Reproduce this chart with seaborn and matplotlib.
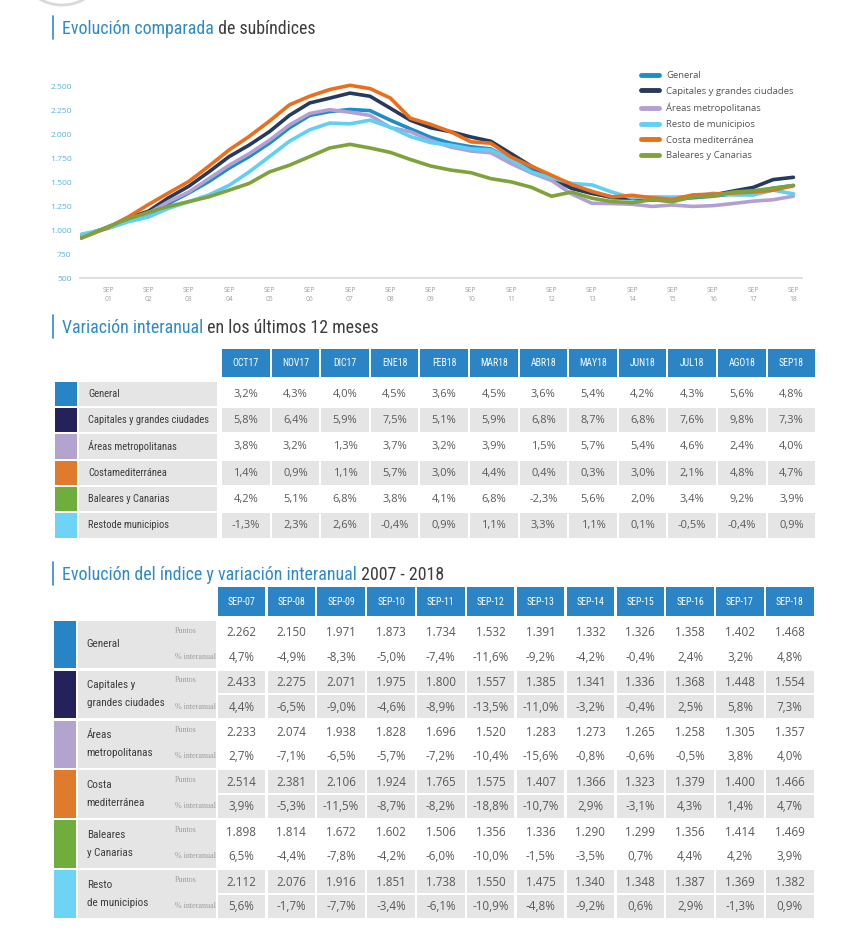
import numpy as np
import pandas as pd
import matplotlib
matplotlib.use("Agg")
import matplotlib.pyplot as plt
import seaborn as sns
from matplotlib import font_manager
from matplotlib.patches import Rectangle, Circle
from matplotlib.ticker import FuncFormatter

# ---------------- data ----------------
fechas = ["2001-01", "2001-09", "2002-03", "2002-09", "2003-03", "2003-09",
          "2004-03", "2004-09", "2005-03", "2005-09", "2006-03", "2006-09",
          "2007-03", "2007-09", "2008-03", "2008-09", "2009-03", "2009-09",
          "2010-03", "2010-09", "2011-03", "2011-09", "2012-03", "2012-09",
          "2013-03", "2013-09", "2014-03", "2014-09", "2015-03", "2015-09",
          "2016-03", "2016-09", "2017-03", "2017-09", "2018-03", "2018-09"]

general = [940, 1030, 1110, 1160, 1280, 1390, 1510, 1650, 1770, 1910, 2070, 2200,
           2240, 2262, 2250, 2150, 2060, 1971, 1910, 1873, 1850, 1734, 1630, 1532,
           1440, 1391, 1340, 1332, 1320, 1326, 1340, 1358, 1380, 1402, 1440, 1468]
capitales = [940, 1030, 1130, 1200, 1340, 1460, 1610, 1770, 1890, 2030, 2200, 2330,
             2380, 2433, 2400, 2275, 2150, 2071, 2030, 1975, 1930, 1800, 1670, 1557,
             1440, 1385, 1350, 1341, 1320, 1336, 1350, 1368, 1410, 1448, 1530, 1554]
areas = [930, 1030, 1120, 1180, 1300, 1400, 1540, 1680, 1800, 1940, 2100, 2220,
         2260, 2233, 2200, 2074, 2030, 1938, 1870, 1828, 1810, 1696, 1600, 1520,
         1380, 1283, 1280, 1273, 1250, 1265, 1250, 1258, 1280, 1305, 1320, 1357]
resto = [960, 1020, 1090, 1140, 1230, 1300, 1370, 1470, 1610, 1770, 1930, 2050,
         2120, 2112, 2150, 2076, 1980, 1916, 1890, 1851, 1840, 1738, 1610, 1550,
         1490, 1475, 1400, 1340, 1350, 1348, 1350, 1387, 1370, 1369, 1420, 1382]
costa = [920, 1030, 1140, 1270, 1390, 1510, 1670, 1840, 1980, 2140, 2310, 2400,
         2470, 2514, 2480, 2381, 2170, 2106, 2030, 1924, 1910, 1765, 1670, 1575,
         1480, 1407, 1350, 1366, 1340, 1323, 1370, 1379, 1390, 1400, 1420, 1466]
baleares = [920, 1040, 1120, 1190, 1250, 1300, 1350, 1420, 1490, 1610, 1680, 1770,
            1860, 1898, 1860, 1814, 1740, 1672, 1630, 1602, 1540, 1506, 1450, 1356,
            1400, 1336, 1300, 1290, 1320, 1299, 1350, 1356, 1400, 1414, 1440, 1469]

series = ["General", "Capitales y grandes ciudades", "Áreas metropolitanas",
          "Resto de municipios", "Costa mediterránea", "Baleares y Canarias"]
colores = ["#1b8dc9", "#253a5e", "#b3a0d3", "#5fd0f5", "#ec6e1a", "#7fa33a"]

yticks = [500, 750, 1000, 1250, 1500, 1750, 2000, 2250, 2500]
xtick_anios = ["01", "02", "03", "04", "05", "06", "07", "08", "09",
               "10", "11", "12", "13", "14", "15", "16", "17", "18"]

# table 1: year-on-year change, last 12 months
meses = ["OCT17", "NOV17", "DIC17", "ENE18", "FEB18", "MAR18",
         "ABR18", "MAY18", "JUN18", "JUL18", "AGO18", "SEP18"]
t1_filas = ["General", "Capitales y grandes ciudades", "Áreas metropolitanas",
            "Costamediterránea", "Baleares y Canarias", "Restode municipios"]
t1_general = [3.2, 4.3, 4.0, 4.5, 3.6, 4.5, 3.6, 5.4, 4.2, 4.3, 5.6, 4.8]
t1_capitales = [5.8, 6.4, 5.9, 7.5, 5.1, 5.9, 6.8, 8.7, 6.8, 7.6, 9.8, 7.3]
t1_areas = [3.8, 3.2, 1.3, 3.7, 3.2, 3.9, 1.5, 5.7, 5.4, 4.6, 2.4, 4.0]
t1_costa = [1.4, 0.9, 1.1, 5.7, 3.0, 4.4, 0.4, 0.3, 3.0, 2.1, 4.8, 4.7]
t1_baleares = [4.2, 5.1, 6.8, 3.8, 4.1, 6.8, -2.3, 5.6, 2.0, 3.4, 9.2, 3.9]
t1_resto = [-1.3, 2.3, 2.6, -0.4, 0.9, 1.1, 3.3, 1.1, 0.1, -0.5, -0.4, 0.9]

# table 2: index and yoy change 2007-2018
anios = ["SEP-07", "SEP-08", "SEP-09", "SEP-10", "SEP-11", "SEP-12",
         "SEP-13", "SEP-14", "SEP-15", "SEP-16", "SEP-17", "SEP-18"]
t2_filas = ["General", "Capitales y\ngrandes ciudades", "Áreas\nmetropolitanas",
            "Costa\nmediterránea", "Baleares\ny Canarias", "Resto\nde municipios"]
pts_general = [2262, 2150, 1971, 1873, 1734, 1532, 1391, 1332, 1326, 1358, 1402, 1468]
pct_general = [4.7, -4.9, -8.3, -5.0, -7.4, -11.6, -9.2, -4.2, -0.4, 2.4, 3.2, 4.8]
pts_capitales = [2433, 2275, 2071, 1975, 1800, 1557, 1385, 1341, 1336, 1368, 1448, 1554]
pct_capitales = [4.4, -6.5, -9.0, -4.6, -8.9, -13.5, -11.0, -3.2, -0.4, 2.5, 5.8, 7.3]
pts_areas = [2233, 2074, 1938, 1828, 1696, 1520, 1283, 1273, 1265, 1258, 1305, 1357]
pct_areas = [2.7, -7.1, -6.5, -5.7, -7.2, -10.4, -15.6, -0.8, -0.6, -0.5, 3.8, 4.0]
pts_costa = [2514, 2381, 2106, 1924, 1765, 1575, 1407, 1366, 1323, 1379, 1400, 1466]
pct_costa = [3.9, -5.3, -11.5, -8.7, -8.2, -18.8, -10.7, 2.9, -3.1, 4.3, 1.4, 4.7]
pts_baleares = [1898, 1814, 1672, 1602, 1506, 1356, 1336, 1290, 1299, 1356, 1414, 1469]
pct_baleares = [6.5, -4.4, -7.8, -4.2, -6.0, -10.0, -1.5, -3.5, 0.7, 4.4, 4.2, 3.9]
pts_resto = [2112, 2076, 1916, 1851, 1738, 1550, 1475, 1340, 1348, 1387, 1369, 1382]
pct_resto = [5.6, -1.7, -7.7, -3.4, -6.1, -10.9, -4.8, -9.2, 0.6, 2.9, -1.3, 0.9]

swatch = ["#2784c6", "#25215a", "#b3a3cf", "#e07a2c", "#6fae3c", "#6dd4f5"]

# ---------------- style ----------------
sns.set_style("white")
names = {f.name for f in font_manager.fontManager.ttflist}
COND = next((n for n in ["Liberation Sans Narrow", "DejaVu Sans Condensed",
                         "Roboto Condensed", "Open Sans Condensed"] if n in names),
            "Liberation Sans")
plt.rcParams["font.family"] = ["Open Sans", "DejaVu Sans"]

BLUE_HEAD = "#2a84c5"
BLUE_T = "#2e8bc9"
GREY = "#e5e5e5"
DARK = "#3d3d3d"
NUM = "#5a5a5a"

W, H = 847, 940
fig = plt.figure(figsize=(W / 100, H / 100), dpi=100)
canvas = fig.add_axes([0, 0, 1, 1])
canvas.set_xlim(0, W)
canvas.set_ylim(H, 0)
canvas.axis("off")


def box(x0, y0, x1, y1):
    return [x0 / W, 1 - y1 / H, (x1 - x0) / W, (y1 - y0) / H]


def pct(v):
    return f"{v:.1f}".replace(".", ",") + "%"


def miles(v):
    return f"{v:,.0f}".replace(",", ".")


def titulo(y, azul, gris):
    canvas.plot([52.7, 52.7], [y - 18, y + 5], color=BLUE_T, lw=1.2)
    t = canvas.text(62, y, azul, color=BLUE_T, fontsize=12.9, family=COND, va="baseline")
    canvas.annotate(gris, xy=(1, 0), xycoords=t, va="bottom", ha="left",
                    color=DARK, fontsize=12.9, family=COND)


def cell(x, y, w, h, color):
    canvas.add_patch(Rectangle((x, y), w, h, facecolor=color, edgecolor="none"))


# decorative arc top-left
canvas.add_patch(Circle((62, -40), 45, facecolor="white", edgecolor="#d9d9d9", lw=2))

# ---------------- line chart ----------------
titulo(34, "Evolución comparada", " de subíndices")

df = pd.DataFrame({"fecha": pd.to_datetime(fechas * 6),
                   "indice": general + capitales + areas + resto + costa + baleares,
                   "serie": np.repeat(series, len(fechas))})

ax = fig.add_axes(box(80, 67.5, 802, 278.3))
ax.patch.set_alpha(0)
sns.lineplot(data=df, x="fecha", y="indice", hue="serie", hue_order=series,
             palette=colores, linewidth=2.6, ax=ax)
ax.set_ylim(500, 2700)
ax.set_xlim(pd.Timestamp("2000-12-20"), pd.Timestamp("2018-11-18"))
ax.set_yticks(yticks)
ax.yaxis.set_major_formatter(FuncFormatter(lambda v, p: miles(v)))
ax.set_xticks([pd.Timestamp(f"20{a}-09-01") for a in xtick_anios])
ax.set_xticklabels([f"SEP\n{a}" for a in xtick_anios])
ax.tick_params(axis="x", length=0, labelsize=4.9, colors="#a0a0a0", pad=6)
ax.tick_params(axis="y", length=0, labelsize=6.1, colors="#5ab4d8", pad=6)
for lab in ax.get_xticklabels():
    lab.set_linespacing(1.4)
ax.set_xlabel("")
ax.set_ylabel("")
sns.despine(ax=ax, left=True)
ax.spines["bottom"].set_color("#dcdcdc")
ax.spines["bottom"].set_linewidth(1.3)
sns.move_legend(ax, "upper left", bbox_to_anchor=(641 / W, 1 - 71 / H),
                bbox_transform=fig.transFigure, frameon=False, title=None,
                fontsize=6.8, handlelength=1.9, handletextpad=0.75,
                labelspacing=0.72, borderpad=0, borderaxespad=0)
for h in ax.get_legend().legend_handles:
    h.set_linewidth(3.5)
for t in ax.get_legend().get_texts():
    t.set_color("#555555")

# ---------------- table 1 ----------------
titulo(333.3, "Variación interanual", " en los últimos 12 meses")
t1_vals = [t1_general, t1_capitales, t1_areas, t1_costa, t1_baleares, t1_resto]
x0, cp, cw = 222, 49.6, 47.6
y0, rp, rh = 381.7, 26.3, 24.4
for j, m in enumerate(meses):
    x = x0 + j * cp
    cell(x, 349, cw, 28, BLUE_HEAD)
    canvas.text(x + cw / 2, 363.5, m, ha="center", va="center", color="white",
                fontsize=7, family=COND)
for i, nombre in enumerate(t1_filas):
    y = y0 + i * rp
    cell(55, y, 22.3, rh, swatch[i])
    cell(79.3, y, 137.4, rh, GREY)
    canvas.text(88, y + rh / 2, nombre, ha="left", va="center", color=DARK,
                fontsize=7.6, family=COND)
    for j, v in enumerate(t1_vals[i]):
        x = x0 + j * cp
        if i % 2 == 1:
            cell(x, y, cw, rh, GREY)
        canvas.text(x + cw / 2, y + rh / 2 + 0.5, pct(v), ha="center", va="center",
                    color=NUM, fontsize=8)

# ---------------- table 2 ----------------
titulo(580, "Evolución del índice y variación interanual", " 2007 - 2018")
t2_pts = [pts_general, pts_capitales, pts_areas, pts_costa, pts_baleares, pts_resto]
t2_pct = [pct_general, pct_capitales, pct_areas, pct_costa, pct_baleares, pct_resto]
x0, cp, cw = 217.7, 49.85, 47.5
y0, gp, gh = 620.7, 49.9, 47.3
sh = (gh - 2) / 2
for j, a in enumerate(anios):
    x = x0 + j * cp
    cell(x, 587.3, cw, 28.7, BLUE_HEAD)
    canvas.text(x + cw / 2, 602, a, ha="center", va="center", color="white",
                fontsize=7.2, family=COND)
for i, nombre in enumerate(t2_filas):
    y = y0 + i * gp
    cell(54, y, 22, gh, swatch[i])
    cell(77.7, y, 138.3, gh, GREY)
    canvas.text(86.7, y + gh / 2, nombre, ha="left", va="center", color=DARK,
                fontsize=8, family=COND, linespacing=1.95)
    canvas.text(175, y + sh / 2 - 1.5, "Puntos", ha="left", va="center",
                color="#9c9c9c", fontsize=5.8, family=["Liberation Serif", "DejaVu Serif"])
    canvas.text(175, y + sh + 2 + sh / 2, "% interanual", ha="left", va="center",
                color="#9c9c9c", fontsize=5.8, family=["Liberation Serif", "DejaVu Serif"])
    for j in range(len(anios)):
        x = x0 + j * cp
        if i % 2 == 1:
            cell(x, y, cw, sh, GREY)
            cell(x, y + sh + 2, cw, sh, GREY)
        canvas.text(x + cw / 2, y + sh / 2 + 0.5, miles(t2_pts[i][j]), ha="center",
                    va="center", color=NUM, fontsize=8.4)
        canvas.text(x + cw / 2, y + sh + 2 + sh / 2 + 0.5, pct(t2_pct[i][j]),
                    ha="center", va="center", color=NUM, fontsize=8.4)

fig.savefig("out.png", dpi=100, facecolor="white")
